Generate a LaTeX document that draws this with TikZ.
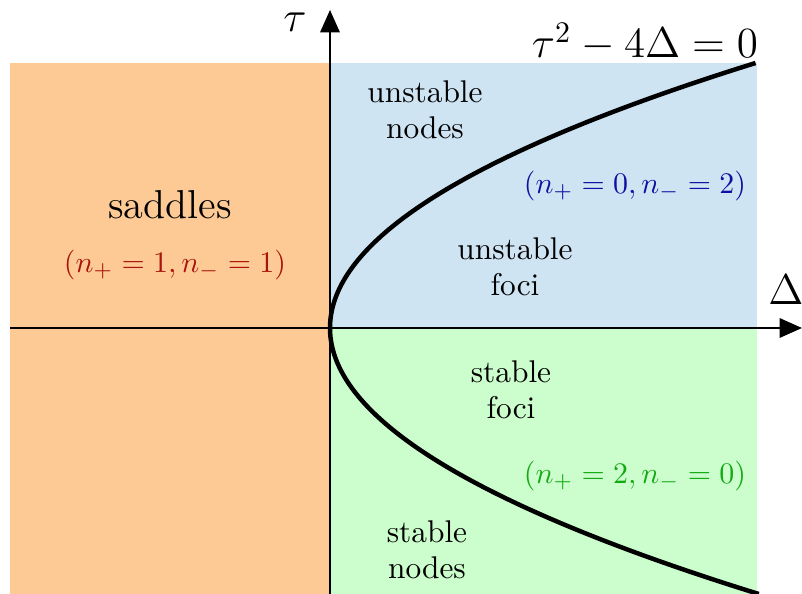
\documentclass[tikz,border=0pt]{standalone}
\usetikzlibrary{arrows.meta}
\definecolor{saddlefill}{RGB}{253,202,150}
\definecolor{unstablefill}{RGB}{207,228,243}
\definecolor{stablefill}{RGB}{204,253,204}
\definecolor{saddletext}{RGB}{170,20,10}
\definecolor{unstabletext}{RGB}{15,15,160}
\definecolor{stabletext}{RGB}{20,170,20}
\begin{document}
\begin{tikzpicture}[x=1.176cm, y=1.176cm, line width=0.7pt,
  region/.style={align=center, font=\fontsize{10.5}{12}\selectfont},
  count/.style={font=\fontsize{10}{12}\selectfont},
  axislabel/.style={font=\fontsize{14}{16}\selectfont}]
  \useasboundingbox (-3.30,-2.66) rectangle (4.72,3.28);
  \coordinate (O) at (0,0);
  \coordinate (W) at (-3.2,0);
  \coordinate (E) at (4.72,0);
  \coordinate (S) at (0,-2.66);
  \coordinate (N) at (0,3.18);
  \fill[saddlefill] (-3.2,-2.66) rectangle (0,2.65);
  \fill[unstablefill] (0,0) rectangle (4.27,2.65);
  \fill[stablefill] (0,-2.66) rectangle (4.27,0);
  \draw[-{Triangle[length=7.5pt,width=6.5pt]}] (W) -- (E);
  \draw[-{Triangle[length=7.5pt,width=6.5pt]}] (S) -- (N);
  \draw[line width=1.5pt, domain=-2.66:2.65, samples=90, smooth]
    plot ({0.606*\x*\x},\x);
  \node[axislabel] (tau) at (-0.35,3.06) {$\tau$};
  \node[axislabel] (delta) at (4.56,0.38) {$\Delta$};
  \node[axislabel] (curve) at (3.15,2.86) {$\tau^2-4\Delta=0$};
  \node[font=\fontsize{13.5}{16}\selectfont] (saddles) at (-1.6,1.23) {saddles};
  \node[count, text=saddletext] (nsaddle) at (-1.55,0.63) {$(n_+=1,n_-=1)$};
  \node[region] (unodes) at (0.95,2.18) {unstable\\nodes};
  \node[count, text=unstabletext] (nunst) at (3.05,1.42) {$(n_+=0,n_-=2)$};
  \node[region] (ufoci) at (1.85,0.61) {unstable\\foci};
  \node[region] (sfoci) at (1.81,-0.62) {stable\\foci};
  \node[count, text=stabletext] (nstab) at (3.05,-1.48) {$(n_+=2,n_-=0)$};
  \node[region] (snodes) at (0.97,-2.22) {stable\\nodes};
\end{tikzpicture}
\end{document}
